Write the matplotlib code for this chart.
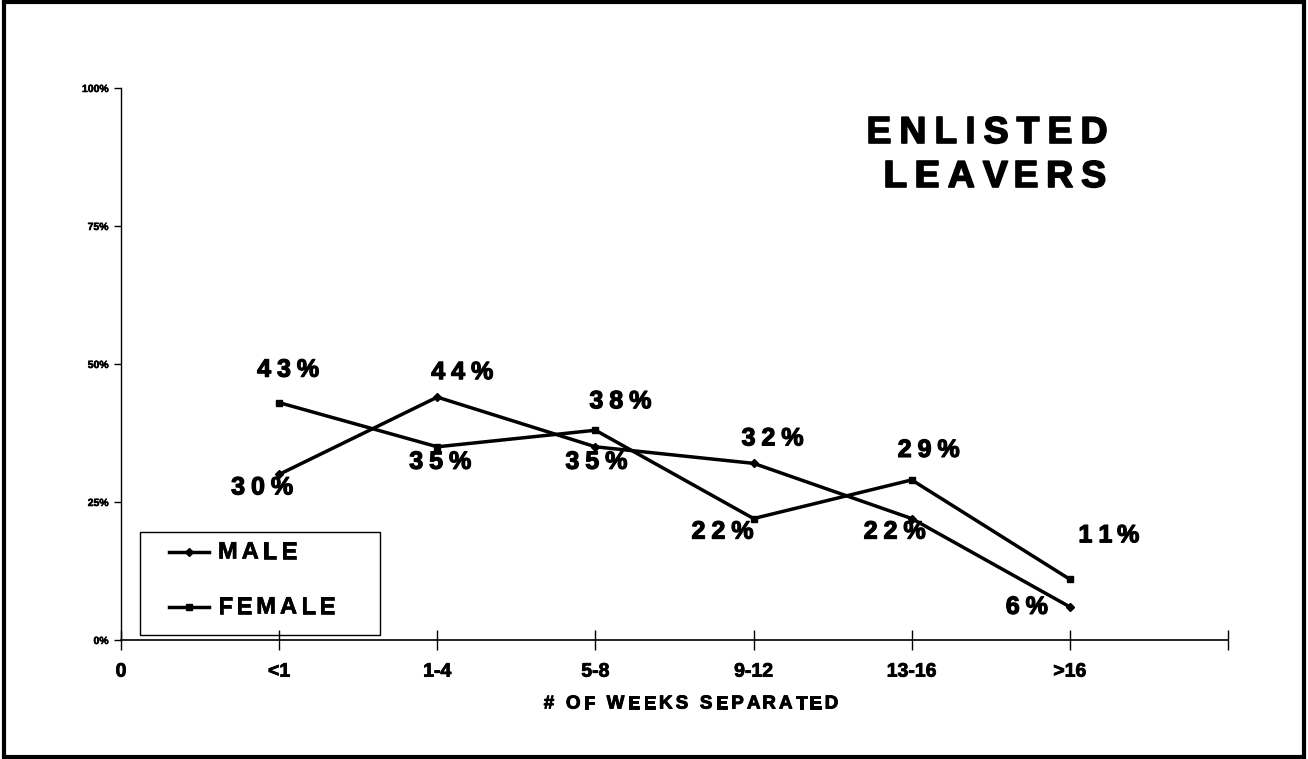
import matplotlib
matplotlib.use("Agg")
import matplotlib.pyplot as plt
import matplotlib.patheffects as pe
from matplotlib.patches import Rectangle
from matplotlib.lines import Line2D
from matplotlib.transforms import IdentityTransform

# data
categories = ['0', '<1', '1-4', '5-8', '9-12', '13-16', '>16']
male = [30, 44, 35, 32, 22, 6]
female = [43, 35, 38, 22, 29, 11]
y_ticks = [0, 25, 50, 75, 100]
y_tick_labels = ['0%', '25%', '50%', '75%', '100%']

# label offsets in pixels (dx, dy; dy positive = down)
male_off = [(-17, 13), (25, -25), (1, 15), (19, -25), (-17, 13), (-43, 0)]
female_off = [(9, -33), (3, 15), (25, -29), (-31, 13), (17, -30), (39, -44)]

sans = ['Liberation Sans', 'DejaVu Sans']
W, H = 1308, 759

fig = plt.figure(figsize=(W/100, H/100), dpi=100)
ax = fig.add_axes([121/W, 1-640/H, (1228-121)/W, (640-88)/H])
rend = fig.canvas.get_renderer()


def text_w(s, size):
    t = fig.text(0, 0, s, fontsize=size, fontweight='bold', family=sans)
    w = t.get_window_extent(rend).width
    t.remove()
    return w


def spaced(cx, cy, s, size, gap, stroke=0.9):
    # letter-spaced text centred at (cx, cy) in image pixels (y down)
    base = text_w('x', size)
    pos = [0 if i == 0 else text_w(s[:i] + 'x', size) - base for i in range(len(s))]
    total = text_w(s, size) + gap*(len(s)-1)
    x0 = cx - total/2
    for i, ch in enumerate(s):
        if ch == ' ':
            continue
        fig.text(x0 + pos[i] + gap*i, H - cy, ch, transform=IdentityTransform(),
                 ha='left', va='center', fontsize=size, fontweight='bold', family=sans,
                 path_effects=[pe.withStroke(linewidth=stroke, foreground='black')])
    return total


xs = list(range(1, len(male) + 1))
ax.plot(xs, male, color='black', lw=2.5, marker='D', ms=4)
ax.plot(xs, female, color='black', lw=2.5, marker='s', ms=5)

ax.set_xlim(0, 7)
ax.set_ylim(0, 100)
ax.set_xticks(range(0, 8))
ax.set_xticklabels(categories + [''], fontsize=14, fontweight='bold', family=sans)
ax.set_yticks(y_ticks)
ax.set_yticklabels(y_tick_labels, fontsize=7.5, fontweight='bold', family=sans)
for t in ax.get_xticklabels():
    t.set_path_effects([pe.withStroke(linewidth=0.6, foreground='black')])
for t in ax.get_yticklabels():
    t.set_path_effects([pe.withStroke(linewidth=0.4, foreground='black')])
ax.tick_params(axis='x', direction='inout', length=14, width=1, pad=10)
ax.tick_params(axis='y', direction='out', length=5, width=1, pad=4)
for s in ['top', 'right']:
    ax.spines[s].set_visible(False)
ax.spines['left'].set_linewidth(1)
ax.spines['bottom'].set_linewidth(1.2)

# data labels
for vals, offs in [(male, male_off), (female, female_off)]:
    for x, v, (dx, dy) in zip(xs, vals, offs):
        px, py = ax.transData.transform((x, v))
        spaced(px + dx, H - py + dy, f'{v}%', 18, 6)

# axis title
spaced(691, 704, '# OF WEEKS SEPARATED', 13.5, 3.2, 0.7)

# chart title
spaced(987, 133, 'ENLISTED', 27, 8, 1.2)
spaced(995, 177, 'LEAVERS', 27, 8, 1.2)

# legend box
fig.add_artist(Rectangle((140, H-635), 240, 103, transform=IdentityTransform(),
                         fill=False, edgecolor='black', lw=1))
for y, mk, ms, lab in [(552, 'D', 4, 'MALE'), (607, 's', 5, 'FEMALE')]:
    fig.add_artist(Line2D([169, 209], [H-y, H-y], transform=IdentityTransform(),
                          color='black', lw=2.5))
    fig.add_artist(Line2D([189], [H-y], transform=IdentityTransform(),
                          color='black', marker=mk, ms=ms, ls='none'))
    w = text_w(lab, 17) + 4*(len(lab)-1)
    spaced(218 + w/2, y, lab, 17, 4, 0.5)

fig.add_artist(Rectangle((0.003, 0.003), 0.994, 0.994, transform=fig.transFigure,
                         fill=False, edgecolor='black', lw=3))

fig.savefig('out.png', dpi=100)
